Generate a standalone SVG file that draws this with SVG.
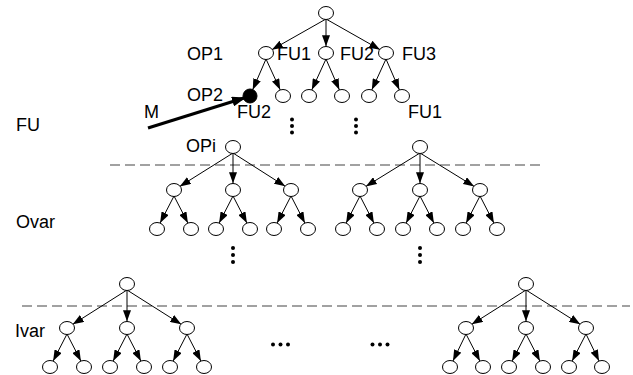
<svg xmlns="http://www.w3.org/2000/svg" width="633" height="375" viewBox="0 0 633 375">
  <style>
    .n { fill: #fff; stroke: #000; stroke-width: 1; }
    .nf { fill: #000; stroke: #000; stroke-width: 1; }
    .c { stroke: #000; stroke-width: 1; fill: none; marker-end: url(#ah); }
    .sep { stroke: #444; stroke-width: 1.2; stroke-dasharray: 10 5; fill: none; }
    .lbl { font-family: "Liberation Sans", Arial, sans-serif; font-size: 18px; fill: #000; }
    .dot { fill: #000; }
  </style>
  <defs>
    <!-- arrowhead; the tip stops ~7 units short of the line end, i.e. on the node outline -->
    <marker id="ah" markerUnits="userSpaceOnUse" markerWidth="19" markerHeight="8" refX="17.8" refY="4" orient="auto">
      <path d="M0,0 L11,4 L0,8 z" fill="#000"/>
    </marker>
    <marker id="ahM" markerUnits="userSpaceOnUse" markerWidth="14" markerHeight="10" refX="12" refY="5" orient="auto">
      <path d="M0,0 L14,5 L0,10 z" fill="#000"/>
    </marker>
  </defs>

  <!-- level separators -->
  <g id="separators">
    <line class="sep" x1="110" y1="165" x2="543" y2="165"/>
    <line class="sep" x1="22" y1="306" x2="630" y2="306"/>
  </g>

  <g id="connectors">
    <!-- top tree -->
    <line class="c" x1="326" y1="19" x2="266" y2="53"/>
    <line class="c" x1="326" y1="19" x2="326" y2="53"/>
    <line class="c" x1="326" y1="19" x2="386" y2="53"/>
    <line class="c" x1="266" y1="59" x2="250" y2="96"/>
    <line class="c" x1="266" y1="59" x2="283" y2="96"/>
    <line class="c" x1="326" y1="59" x2="309" y2="96"/>
    <line class="c" x1="326" y1="59" x2="342" y2="96"/>
    <line class="c" x1="386" y1="59" x2="369" y2="96"/>
    <line class="c" x1="386" y1="59" x2="402" y2="96"/>
    <!-- Ovar, left subtree -->
    <line class="c" x1="233" y1="153" x2="174" y2="190"/>
    <line class="c" x1="233" y1="153" x2="233" y2="190"/>
    <line class="c" x1="233" y1="153" x2="291" y2="190"/>
    <line class="c" x1="174" y1="196" x2="157" y2="229"/>
    <line class="c" x1="174" y1="196" x2="191" y2="229"/>
    <line class="c" x1="233" y1="196" x2="216" y2="229"/>
    <line class="c" x1="233" y1="196" x2="250" y2="229"/>
    <line class="c" x1="291" y1="196" x2="274" y2="229"/>
    <line class="c" x1="291" y1="196" x2="308" y2="229"/>
    <!-- Ovar, right subtree -->
    <line class="c" x1="420" y1="153" x2="360" y2="190"/>
    <line class="c" x1="420" y1="153" x2="420" y2="190"/>
    <line class="c" x1="420" y1="153" x2="480" y2="190"/>
    <line class="c" x1="360" y1="196" x2="343" y2="229"/>
    <line class="c" x1="360" y1="196" x2="377" y2="229"/>
    <line class="c" x1="420" y1="196" x2="403" y2="229"/>
    <line class="c" x1="420" y1="196" x2="437" y2="229"/>
    <line class="c" x1="480" y1="196" x2="463" y2="229"/>
    <line class="c" x1="480" y1="196" x2="497" y2="229"/>
    <!-- Ivar, left subtree -->
    <line class="c" x1="127" y1="290" x2="67" y2="328"/>
    <line class="c" x1="127" y1="290" x2="127" y2="328"/>
    <line class="c" x1="127" y1="290" x2="187" y2="328"/>
    <line class="c" x1="67" y1="334" x2="50" y2="367"/>
    <line class="c" x1="67" y1="334" x2="84" y2="367"/>
    <line class="c" x1="127" y1="334" x2="110" y2="367"/>
    <line class="c" x1="127" y1="334" x2="144" y2="367"/>
    <line class="c" x1="187" y1="334" x2="170" y2="367"/>
    <line class="c" x1="187" y1="334" x2="204" y2="367"/>
    <!-- Ivar, right subtree -->
    <line class="c" x1="526" y1="290" x2="466" y2="328"/>
    <line class="c" x1="526" y1="290" x2="526" y2="328"/>
    <line class="c" x1="526" y1="290" x2="586" y2="328"/>
    <line class="c" x1="466" y1="334" x2="450" y2="367"/>
    <line class="c" x1="466" y1="334" x2="483" y2="367"/>
    <line class="c" x1="526" y1="334" x2="509" y2="367"/>
    <line class="c" x1="526" y1="334" x2="543" y2="367"/>
    <line class="c" x1="586" y1="334" x2="569" y2="367"/>
    <line class="c" x1="586" y1="334" x2="602" y2="367"/>
    <!-- M pointer -->
    <line x1="148" y1="128" x2="244" y2="98" stroke="#000" stroke-width="3.2" marker-end="url(#ahM)"/>
  </g>

  <!-- top tree nodes -->
  <g id="t0"><ellipse class="n" cx="326" cy="13" rx="7.5" ry="6.5"/></g>
  <g id="t1"><ellipse class="n" cx="266" cy="53" rx="7.5" ry="6.5"/></g>
  <g id="t2"><ellipse class="n" cx="326" cy="53" rx="7.5" ry="6.5"/></g>
  <g id="t3"><ellipse class="n" cx="386" cy="53" rx="7.5" ry="6.5"/></g>
  <g id="t11"><ellipse class="nf" cx="250" cy="96" rx="7" ry="7"/></g>
  <g id="t12"><ellipse class="n" cx="283" cy="96" rx="7.5" ry="6.5"/></g>
  <g id="t21"><ellipse class="n" cx="309" cy="96" rx="7.5" ry="6.5"/></g>
  <g id="t22"><ellipse class="n" cx="342" cy="96" rx="7.5" ry="6.5"/></g>
  <g id="t31"><ellipse class="n" cx="369" cy="96" rx="7.5" ry="6.5"/></g>
  <g id="t32"><ellipse class="n" cx="402" cy="96" rx="7.5" ry="6.5"/></g>

  <!-- Ovar left -->
  <g id="a0"><ellipse class="n" cx="233" cy="147" rx="7.5" ry="6.5"/></g>
  <g id="a1"><ellipse class="n" cx="174" cy="190" rx="7.5" ry="6.5"/></g>
  <g id="a2"><ellipse class="n" cx="233" cy="190" rx="7.5" ry="6.5"/></g>
  <g id="a3"><ellipse class="n" cx="291" cy="190" rx="7.5" ry="6.5"/></g>
  <g id="a11"><ellipse class="n" cx="157" cy="229" rx="7.5" ry="6.5"/></g>
  <g id="a12"><ellipse class="n" cx="191" cy="229" rx="7.5" ry="6.5"/></g>
  <g id="a21"><ellipse class="n" cx="216" cy="229" rx="7.5" ry="6.5"/></g>
  <g id="a22"><ellipse class="n" cx="250" cy="229" rx="7.5" ry="6.5"/></g>
  <g id="a31"><ellipse class="n" cx="274" cy="229" rx="7.5" ry="6.5"/></g>
  <g id="a32"><ellipse class="n" cx="308" cy="229" rx="7.5" ry="6.5"/></g>

  <!-- Ovar right -->
  <g id="b0"><ellipse class="n" cx="420" cy="147" rx="7.5" ry="6.5"/></g>
  <g id="b1"><ellipse class="n" cx="360" cy="190" rx="7.5" ry="6.5"/></g>
  <g id="b2"><ellipse class="n" cx="420" cy="190" rx="7.5" ry="6.5"/></g>
  <g id="b3"><ellipse class="n" cx="480" cy="190" rx="7.5" ry="6.5"/></g>
  <g id="b11"><ellipse class="n" cx="343" cy="229" rx="7.5" ry="6.5"/></g>
  <g id="b12"><ellipse class="n" cx="377" cy="229" rx="7.5" ry="6.5"/></g>
  <g id="b21"><ellipse class="n" cx="403" cy="229" rx="7.5" ry="6.5"/></g>
  <g id="b22"><ellipse class="n" cx="437" cy="229" rx="7.5" ry="6.5"/></g>
  <g id="b31"><ellipse class="n" cx="463" cy="229" rx="7.5" ry="6.5"/></g>
  <g id="b32"><ellipse class="n" cx="497" cy="229" rx="7.5" ry="6.5"/></g>

  <!-- Ivar left -->
  <g id="c0"><ellipse class="n" cx="127" cy="284" rx="7.5" ry="6.5"/></g>
  <g id="c1"><ellipse class="n" cx="67" cy="328" rx="7.5" ry="6.5"/></g>
  <g id="c2"><ellipse class="n" cx="127" cy="328" rx="7.5" ry="6.5"/></g>
  <g id="c3"><ellipse class="n" cx="187" cy="328" rx="7.5" ry="6.5"/></g>
  <g id="c11"><ellipse class="n" cx="50" cy="367" rx="7.5" ry="6.5"/></g>
  <g id="c12"><ellipse class="n" cx="84" cy="367" rx="7.5" ry="6.5"/></g>
  <g id="c21"><ellipse class="n" cx="110" cy="367" rx="7.5" ry="6.5"/></g>
  <g id="c22"><ellipse class="n" cx="144" cy="367" rx="7.5" ry="6.5"/></g>
  <g id="c31"><ellipse class="n" cx="170" cy="367" rx="7.5" ry="6.5"/></g>
  <g id="c32"><ellipse class="n" cx="204" cy="367" rx="7.5" ry="6.5"/></g>

  <!-- Ivar right -->
  <g id="d0"><ellipse class="n" cx="526" cy="284" rx="7.5" ry="6.5"/></g>
  <g id="d1"><ellipse class="n" cx="466" cy="328" rx="7.5" ry="6.5"/></g>
  <g id="d2"><ellipse class="n" cx="526" cy="328" rx="7.5" ry="6.5"/></g>
  <g id="d3"><ellipse class="n" cx="586" cy="328" rx="7.5" ry="6.5"/></g>
  <g id="d11"><ellipse class="n" cx="450" cy="367" rx="7.5" ry="6.5"/></g>
  <g id="d12"><ellipse class="n" cx="483" cy="367" rx="7.5" ry="6.5"/></g>
  <g id="d21"><ellipse class="n" cx="509" cy="367" rx="7.5" ry="6.5"/></g>
  <g id="d22"><ellipse class="n" cx="543" cy="367" rx="7.5" ry="6.5"/></g>
  <g id="d31"><ellipse class="n" cx="569" cy="367" rx="7.5" ry="6.5"/></g>
  <g id="d32"><ellipse class="n" cx="602" cy="367" rx="7.5" ry="6.5"/></g>

  <!-- ellipsis dots -->
  <g id="ellipses">
    <circle class="dot" cx="292" cy="119.5" r="2"/>
    <circle class="dot" cx="292" cy="126" r="2"/>
    <circle class="dot" cx="292" cy="132.5" r="2"/>
    <circle class="dot" cx="356" cy="119.5" r="2"/>
    <circle class="dot" cx="356" cy="126" r="2"/>
    <circle class="dot" cx="356" cy="132.5" r="2"/>
    <circle class="dot" cx="233" cy="248" r="2"/>
    <circle class="dot" cx="233" cy="255" r="2"/>
    <circle class="dot" cx="233" cy="262" r="2"/>
    <circle class="dot" cx="420" cy="248" r="2"/>
    <circle class="dot" cx="420" cy="255" r="2"/>
    <circle class="dot" cx="420" cy="262" r="2"/>
    <circle class="dot" cx="273" cy="344.5" r="2"/>
    <circle class="dot" cx="280.5" cy="344.5" r="2"/>
    <circle class="dot" cx="288" cy="344.5" r="2"/>
    <circle class="dot" cx="372.5" cy="344.5" r="2"/>
    <circle class="dot" cx="380" cy="344.5" r="2"/>
    <circle class="dot" cx="387.5" cy="344.5" r="2"/>
  </g>

  <g id="labels">
    <text class="lbl" x="187" y="60">OP1</text>
    <text class="lbl" x="277" y="60">FU1</text>
    <text class="lbl" x="340" y="60">FU2</text>
    <text class="lbl" x="402" y="60">FU3</text>
    <text class="lbl" x="187" y="101">OP2</text>
    <text class="lbl" x="144" y="118">M</text>
    <text class="lbl" x="237" y="118">FU2</text>
    <text class="lbl" x="408" y="118">FU1</text>
    <text class="lbl" x="16" y="131">FU</text>
    <text class="lbl" x="186" y="152">OPi</text>
    <text class="lbl" x="16" y="228">Ovar</text>
    <text class="lbl" x="15" y="337">Ivar</text>
  </g>
</svg>
